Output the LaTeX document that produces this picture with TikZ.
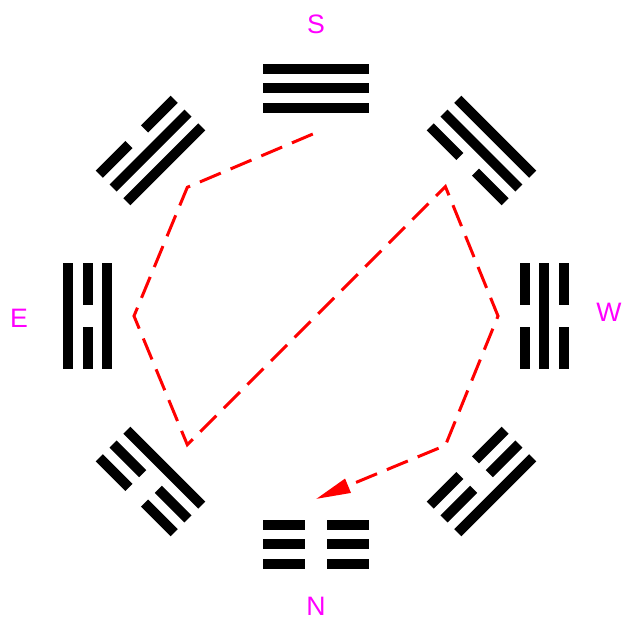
\documentclass[tikz,border=0pt]{standalone}
\usepackage{fontspec}
\setmainfont{Liberation Sans}
\usetikzlibrary{arrows.meta}
\definecolor{pathred}{RGB}{255,0,0}
\definecolor{compass}{RGB}{255,0,255}
\tikzset{
  yaoline/.style={fill=black},
  compasslabel/.style={text=compass,inner sep=0pt,
    font=\fontsize{20}{20}\selectfont},
  orderpath/.style={pathred,line width=2.25pt,
    dash pattern=on 17pt off 8pt,
    -{Triangle[length=26pt,width=11pt]}}
}
% one trigram: angle, radius of middle line, lines from inner to outer (1 = whole)
\newcommand{\trigram}[3]{%
  \begin{scope}[rotate=#1-90]
    \foreach \bit [count=\k] in {#3} {
      \pgfmathsetmacro{\yy}{#2+(\k-2)*19.5}
      \ifnum\bit=1
        \fill[yaoline] (-53,\yy-5) rectangle (53,\yy+5);
      \else
        \fill[yaoline] (-53,\yy-5) rectangle (-11,\yy+5);
        \fill[yaoline] (11,\yy-5) rectangle (53,\yy+5);
      \fi
    }
  \end{scope}}

\begin{document}
\begin{tikzpicture}[x=0.75pt,y=0.75pt]
  \useasboundingbox (-316,-303) rectangle (308,316);
  % trigrams
  \trigram{90}{228}{1,1,1}
  \trigram{135}{234}{1,1,0}
  \trigram{180}{228}{1,0,1}
  \trigram{225}{234}{1,0,0}
  \trigram{45}{234}{0,1,1}
  \trigram{0}{228}{0,1,0}
  \trigram{315}{234}{0,0,1}
  \trigram{270}{228}{0,0,0}
  % compass points
  \node[compasslabel] (south) at (0,292)   {S};
  \node[compasslabel] (north) at (0,-290)  {N};
  \node[compasslabel] (east)  at (-297,-2) {E};
  \node[compasslabel] (west)  at (293,4)   {W};
  % stops of the path
  \coordinate (qian) at (91:182);
  \coordinate (dui)  at (135:182);
  \coordinate (li)   at (180:182);
  \coordinate (zhen) at (225:182);
  \coordinate (xun)  at (45:183);
  \coordinate (kan)  at (0:182);
  \coordinate (gen)  at (315:183);
  \coordinate (kun)  at (270:183);
  \draw[orderpath] (qian) -- (dui) -- (li) -- (zhen) -- (xun) -- (kan) -- (gen) -- (kun);
\end{tikzpicture}
\end{document}
